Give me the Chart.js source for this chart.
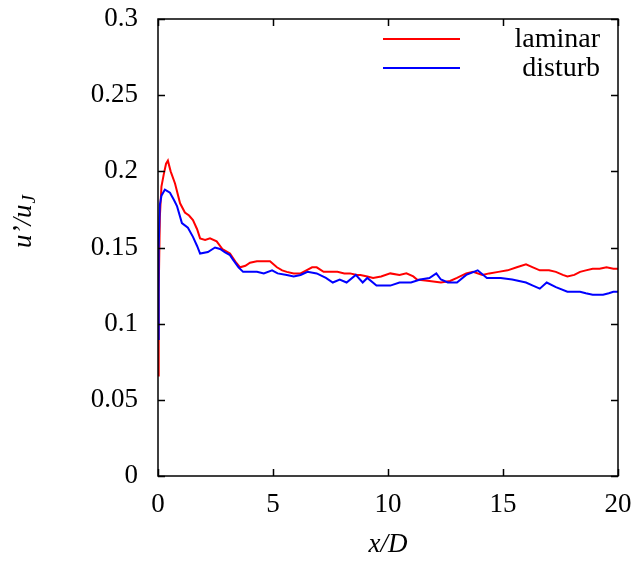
<!DOCTYPE html>
<html>
<head>
<meta charset="utf-8">
<script src="https://cdn.jsdelivr.net/npm/chart.js@4"></script>
<style>
  html, body { margin: 0; padding: 0; background: #fff; }
  #wrap { width: 638px; height: 563px; }
</style>
</head>
<body>
<div id="wrap"><canvas id="chart" width="638" height="563"></canvas></div>
<script>
// values
const seriesNames = ['laminar', 'disturb'];
const laminarX = [0, 0.03, 0.08, 0.15, 0.25, 0.35, 0.43, 0.55, 0.74, 0.96, 1.17, 1.35, 1.52, 1.7, 1.83, 2.05, 2.26, 2.55, 2.8, 3.13, 3.4, 3.57, 3.8, 4.0, 4.3, 4.6, 4.87, 5.17, 5.4, 5.6, 5.9, 6.2, 6.45, 6.7, 6.9, 7.2, 7.5, 7.8, 8.1, 8.35, 8.65, 8.8, 9.1, 9.35, 9.7, 10.1, 10.5, 10.8, 11.1, 11.26, 11.8, 12.3, 12.7, 13, 13.4, 13.7, 14.1, 14.4, 14.8, 15.2, 15.6, 16, 16.3, 16.6, 17, 17.3, 17.6, 17.8, 18.1, 18.35, 18.6, 18.9, 19.2, 19.5, 19.8, 20];
const laminarY = [0.066, 0.12, 0.17, 0.19, 0.198, 0.205, 0.207, 0.2, 0.192, 0.179, 0.173, 0.171, 0.168, 0.162, 0.156, 0.155, 0.156, 0.154, 0.149, 0.146, 0.14, 0.137, 0.138, 0.14, 0.141, 0.141, 0.141, 0.137, 0.135, 0.134, 0.133, 0.133, 0.135, 0.137, 0.137, 0.134, 0.134, 0.134, 0.133, 0.133, 0.132, 0.132, 0.131, 0.13, 0.131, 0.133, 0.132, 0.133, 0.131, 0.129, 0.128, 0.127, 0.128, 0.13, 0.133, 0.134, 0.132, 0.133, 0.134, 0.135, 0.137, 0.139, 0.137, 0.135, 0.135, 0.134, 0.132, 0.131, 0.132, 0.134, 0.135, 0.136, 0.136, 0.137, 0.136, 0.136];
const disturbX = [0, 0.03, 0.08, 0.15, 0.3, 0.52, 0.7, 0.83, 1.04, 1.3, 1.52, 1.7, 1.83, 2.17, 2.48, 2.7, 2.9, 3.13, 3.26, 3.5, 3.7, 4.0, 4.3, 4.6, 4.96, 5.2, 5.6, 5.9, 6.2, 6.5, 6.9, 7.3, 7.6, 7.9, 8.2, 8.6, 8.9, 9.1, 9.5, 9.8, 10.1, 10.5, 11, 11.4, 11.8, 12.1, 12.3, 12.6, 13, 13.4, 13.9, 14.3, 14.9, 15.4, 16, 16.3, 16.6, 16.9, 17.3, 17.8, 18.35, 18.6, 18.9, 19.35, 19.6, 19.8, 20];
const disturbY = [0.09, 0.15, 0.178, 0.184, 0.188, 0.186, 0.181, 0.177, 0.166, 0.163, 0.157, 0.151, 0.146, 0.147, 0.15, 0.149, 0.147, 0.145, 0.142, 0.137, 0.134, 0.134, 0.134, 0.133, 0.135, 0.133, 0.132, 0.131, 0.132, 0.134, 0.133, 0.13, 0.127, 0.129, 0.127, 0.132, 0.127, 0.13, 0.125, 0.125, 0.125, 0.127, 0.127, 0.129, 0.13, 0.133, 0.129, 0.127, 0.127, 0.132, 0.135, 0.13, 0.13, 0.129, 0.127, 0.125, 0.123, 0.127, 0.124, 0.121, 0.121, 0.12, 0.119, 0.119, 0.12, 0.121, 0.121];
const xTicks = [0, 5, 10, 15, 20];
const yTicks = [0, 0.05, 0.1, 0.15, 0.2, 0.25, 0.3];

const toPoints = (xs, ys) => xs.map((x, i) => ({ x: x, y: ys[i] }));
const serif = '"Liberation Serif", "Times New Roman", serif';

// gnuplot style frame, inward ticks, legend and axis titles
const gnuFrame = {
    id: 'gnuFrame',
    afterDraw(chart) {
        const ctx = chart.ctx;
        const a = chart.chartArea;
        const xs = chart.scales.x, ys = chart.scales.y;
        const tl = 7;
        ctx.save();
        ctx.strokeStyle = '#000';
        ctx.lineWidth = 1.5;
        ctx.strokeRect(a.left, a.top, a.right - a.left, a.bottom - a.top);
        ctx.beginPath();
        xTicks.forEach(v => {
            const p = Math.round(xs.getPixelForValue(v)) + 0.5;
            ctx.moveTo(p, a.bottom); ctx.lineTo(p, a.bottom - tl);
            ctx.moveTo(p, a.top); ctx.lineTo(p, a.top + tl);
        });
        yTicks.forEach(v => {
            const p = Math.round(ys.getPixelForValue(v)) + 0.5;
            ctx.moveTo(a.left, p); ctx.lineTo(a.left + tl, p);
            ctx.moveTo(a.right, p); ctx.lineTo(a.right - tl, p);
        });
        ctx.stroke();

        // legend (sample line on the left, label right aligned)
        ctx.font = '28px ' + serif;
        ctx.textAlign = 'right';
        ctx.textBaseline = 'middle';
        chart.data.datasets.forEach((ds, i) => {
            const y = 39 + i * 29;
            ctx.strokeStyle = ds.borderColor;
            ctx.lineWidth = 2;
            ctx.beginPath();
            ctx.moveTo(383, y); ctx.lineTo(460, y);
            ctx.stroke();
            ctx.fillStyle = '#000';
            ctx.fillText(ds.label, 600, y + 1);
        });

        // x title
        ctx.font = 'italic 27px ' + serif;
        ctx.textAlign = 'center';
        ctx.fillText('x/D', (a.left + a.right) / 2, 545);

        // y title with subscript J
        ctx.translate(24, 222);
        ctx.rotate(-Math.PI / 2);
        ctx.textAlign = 'left';
        const main = 'u\u2019/u';
        const w1 = ctx.measureText(main).width;
        ctx.font = 'italic 19px ' + serif;
        const w2 = ctx.measureText('J').width;
        const start = -(w1 + w2) / 2;
        ctx.font = 'italic 27px ' + serif;
        ctx.fillText(main, start, 0);
        ctx.font = 'italic 19px ' + serif;
        ctx.fillText('J', start + w1 + 1, 6);
        ctx.restore();
    }
};

new Chart(document.getElementById('chart'), {
    type: 'line',
    data: {
        datasets: [
            { label: seriesNames[0], data: toPoints(laminarX, laminarY), borderColor: '#ff0000', order: 1 },
            { label: seriesNames[1], data: toPoints(disturbX, disturbY), borderColor: '#0000ff', order: 0 }
        ]
    },
    options: {
        responsive: false,
        animation: false,
        layout: { padding: { left: 0, right: 20, top: 19, bottom: 0 } },
        elements: {
            line: { borderWidth: 2, tension: 0, fill: false },
            point: { radius: 0 }
        },
        plugins: { legend: { display: false }, tooltip: { enabled: false } },
        scales: {
            x: {
                type: 'linear', min: 0, max: 20,
                afterFit: s => { s.height = 87; s.paddingLeft = 0; s.paddingRight = 0; },
                afterBuildTicks: s => { s.ticks = xTicks.map(v => ({ value: v })); },
                grid: { display: false, drawTicks: false }, border: { display: false },
                ticks: { color: '#000', padding: 13, maxRotation: 0, font: { family: serif, size: 27 } }
            },
            y: {
                type: 'linear', min: 0, max: 0.3,
                afterFit: s => { s.width = 158; s.paddingTop = 0; s.paddingBottom = 0; },
                afterBuildTicks: s => { s.ticks = yTicks.map(v => ({ value: v })); },
                grid: { display: false, drawTicks: false }, border: { display: false },
                ticks: { color: '#000', padding: 20, font: { family: serif, size: 27 },
                    callback: v => String(+v.toFixed(2)) }
            }
        }
    },
    plugins: [gnuFrame]
});
</script>
</body>
</html>
